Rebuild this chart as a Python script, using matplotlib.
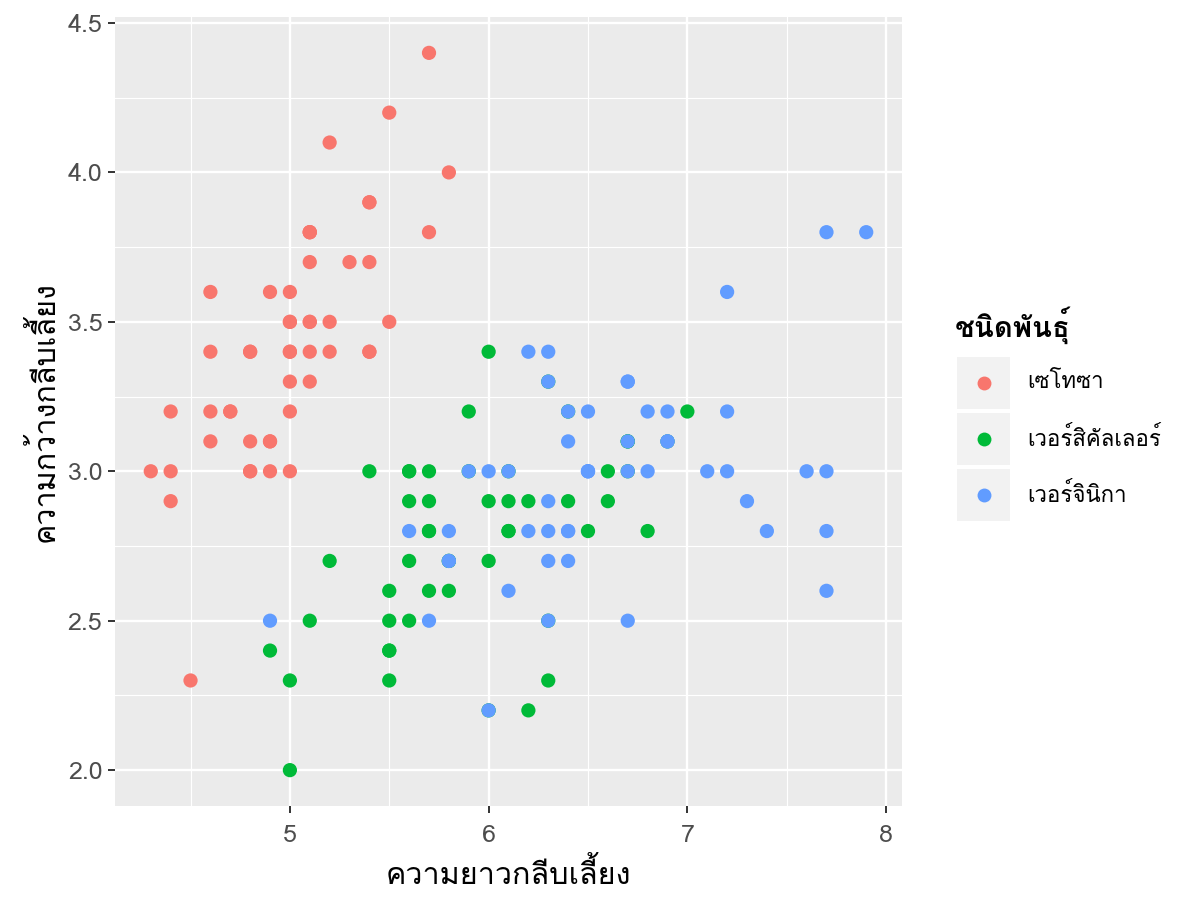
import matplotlib
matplotlib.use("Agg")
import matplotlib.pyplot as plt
from matplotlib import font_manager
from matplotlib.ft2font import FT2Font
from matplotlib.patches import Rectangle
from matplotlib.ticker import MultipleLocator

# iris: sepal length / sepal width
setosa_len = [5.1, 4.9, 4.7, 4.6, 5.0, 5.4, 4.6, 5.0, 4.4, 4.9, 5.4, 4.8, 4.8, 4.3, 5.8, 5.7, 5.4,
              5.1, 5.7, 5.1, 5.4, 5.1, 4.6, 5.1, 4.8, 5.0, 5.0, 5.2, 5.2, 4.7, 4.8, 5.4, 5.2, 5.5,
              4.9, 5.0, 5.5, 4.9, 4.4, 5.1, 5.0, 4.5, 4.4, 5.0, 5.1, 4.8, 5.1, 4.6, 5.3, 5.0]
setosa_wid = [3.5, 3.0, 3.2, 3.1, 3.6, 3.9, 3.4, 3.4, 2.9, 3.1, 3.7, 3.4, 3.0, 3.0, 4.0, 4.4, 3.9,
              3.5, 3.8, 3.8, 3.4, 3.7, 3.6, 3.3, 3.4, 3.0, 3.4, 3.5, 3.4, 3.2, 3.1, 3.4, 4.1, 4.2,
              3.1, 3.2, 3.5, 3.6, 3.0, 3.4, 3.5, 2.3, 3.2, 3.5, 3.8, 3.0, 3.8, 3.2, 3.7, 3.3]
versi_len = [7.0, 6.4, 6.9, 5.5, 6.5, 5.7, 6.3, 4.9, 6.6, 5.2, 5.0, 5.9, 6.0, 6.1, 5.6, 6.7, 5.6,
             5.8, 6.2, 5.6, 5.9, 6.1, 6.3, 6.1, 6.4, 6.6, 6.8, 6.7, 6.0, 5.7, 5.5, 5.5, 5.8, 6.0,
             5.4, 6.0, 6.7, 6.3, 5.6, 5.5, 5.5, 6.1, 5.8, 5.0, 5.6, 5.7, 5.7, 6.2, 5.1, 5.7]
versi_wid = [3.2, 3.2, 3.1, 2.3, 2.8, 2.8, 3.3, 2.4, 2.9, 2.7, 2.0, 3.0, 2.2, 2.9, 2.9, 3.1, 3.0,
             2.7, 2.2, 2.5, 3.2, 2.8, 2.5, 2.8, 2.9, 3.0, 2.8, 3.0, 2.9, 2.6, 2.4, 2.4, 2.7, 2.7,
             3.0, 3.4, 3.1, 2.3, 3.0, 2.5, 2.6, 3.0, 2.6, 2.3, 2.7, 3.0, 2.9, 2.9, 2.5, 2.8]
virg_len = [6.3, 5.8, 7.1, 6.3, 6.5, 7.6, 4.9, 7.3, 6.7, 7.2, 6.5, 6.4, 6.8, 5.7, 5.8, 6.4, 6.5,
            7.7, 7.7, 6.0, 6.9, 5.6, 7.7, 6.3, 6.7, 7.2, 6.2, 6.1, 6.4, 7.2, 7.4, 7.9, 6.4, 6.3,
            6.1, 7.7, 6.3, 6.4, 6.0, 6.9, 6.7, 6.9, 5.8, 6.8, 6.7, 6.7, 6.3, 6.5, 6.2, 5.9]
virg_wid = [3.3, 2.7, 3.0, 2.9, 3.0, 3.0, 2.5, 2.9, 2.5, 3.6, 3.2, 2.7, 3.0, 2.5, 2.8, 3.2, 3.0,
            3.8, 2.6, 2.2, 3.2, 2.8, 2.8, 2.7, 3.3, 3.2, 2.8, 3.0, 2.8, 3.0, 2.8, 3.8, 2.8, 2.8,
            2.6, 3.0, 3.4, 3.1, 3.0, 3.1, 3.1, 3.1, 2.7, 3.2, 3.3, 3.0, 2.5, 3.0, 3.4, 3.0]

species = ["เซโทซา", "เวอร์สิคัลเลอร์", "เวอร์จินิกา"]
colors = ["#F8766D", "#00BA38", "#619CFF"]
x_label = "ความยาวกลีบเลี้ยง"
y_label = "ความกว้างกลีบเลี้ยง"
legend_title = "ชนิดพันธุ์"


# need a font with Thai glyphs
def find_thai_fonts():
    names = []
    for f in font_manager.fontManager.ttflist:
        try:
            if 0x0E01 in FT2Font(f.fname).get_charmap() and f.name not in names:
                names.append(f.name)
        except Exception:
            pass
    return names


thai = find_thai_fonts()
print("thai fonts:", thai)
plt.rcParams['font.family'] = thai[:1] + ['DejaVu Sans']

fig = plt.figure(figsize=(11.84, 9.11), dpi=100)
ax = fig.add_axes([115 / 1184, 105 / 911, 787 / 1184, 789 / 911])
ax.set_facecolor("#EBEBEB")

groups = [(setosa_len, setosa_wid), (versi_len, versi_wid), (virg_len, virg_wid)]
for (xs, ys), c, name in zip(groups, colors, species):
    ax.scatter(xs, ys, s=105, color=c, edgecolors="none", zorder=3, label=name)

ax.set_xlim(4.12, 8.08)
ax.set_ylim(1.88, 4.52)
ax.xaxis.set_major_locator(MultipleLocator(1))
ax.xaxis.set_minor_locator(MultipleLocator(0.5))
ax.yaxis.set_major_locator(MultipleLocator(0.5))
ax.yaxis.set_minor_locator(MultipleLocator(0.25))
ax.yaxis.set_major_formatter(lambda v, p: f"{v:.1f}")
ax.grid(which="major", color="white", linewidth=1.7, zorder=0)
ax.grid(which="minor", color="white", linewidth=0.8, zorder=0)
ax.set_axisbelow(True)
for s in ax.spines.values():
    s.set_visible(False)
ax.tick_params(which="major", length=5, width=1.4, color="#333333",
               labelsize=18, labelcolor="#4D4D4D")
ax.tick_params(axis="x", which="major", pad=8)
ax.tick_params(axis="y", which="major", pad=4)
ax.tick_params(which="minor", length=0)

ax.set_xlabel(x_label, fontsize=22, color="black", labelpad=8)
ax.set_ylabel(y_label, fontsize=22, color="black", labelpad=6)

# legend drawn by hand in figure pixels
W, H = 1184, 911
fig.text(955 / W, 1 - 325 / H, legend_title, fontsize=21, fontweight="bold", va="center", ha="left")
for i, (name, c) in enumerate(zip(species, colors)):
    yc = 383 + 56 * i
    fig.patches.append(Rectangle((957 / W, 1 - (yc + 26) / H), 53 / W, 52 / H,
                                 transform=fig.transFigure, facecolor="#F2F2F2",
                                 edgecolor="none"))
    fig.lines.append(plt.Line2D([983.5 / W], [1 - yc / H], marker="o", markersize=10,
                                color=c, markeredgewidth=0, transform=fig.transFigure))
    fig.text(1027 / W, 1 - yc / H, name, fontsize=16, va="center", ha="left")

fig.savefig("out.png", dpi=100)
